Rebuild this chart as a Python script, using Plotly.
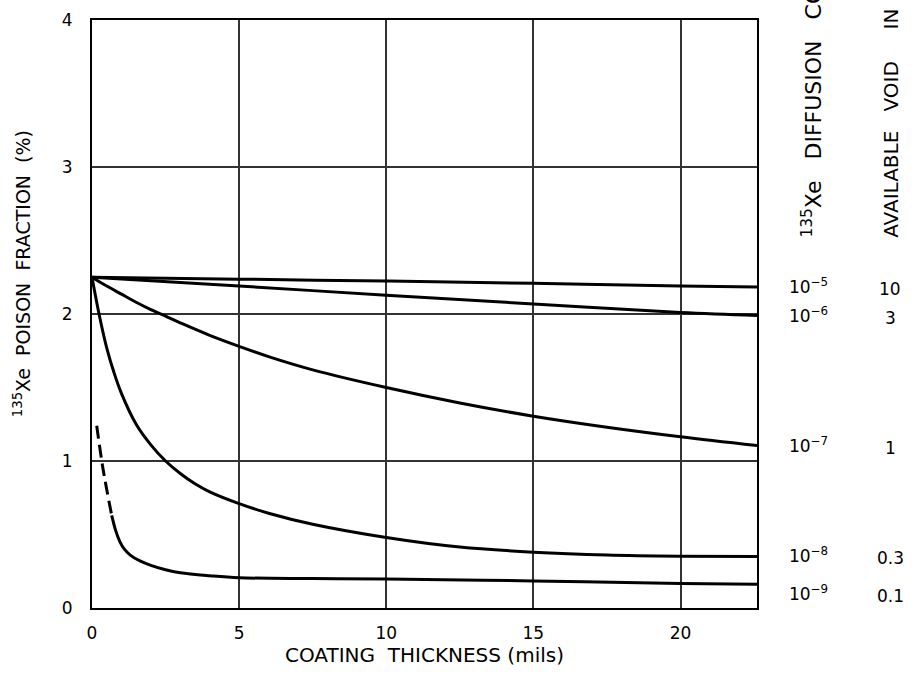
import plotly.graph_objects as go

# ---- data ----
c1_x = [0, 5, 10, 15, 20, 22.6]
c1_y = [2.25, 2.237, 2.224, 2.209, 2.19, 2.184]

c2_x = [0, 5, 10, 15, 20, 22.6]
c2_y = [2.25, 2.19, 2.128, 2.068, 2.01, 1.99]

c3_x = [0, 0.5, 1, 1.5, 2, 2.5, 3, 4, 5, 6, 7.5, 10, 12.5, 15, 17.5, 20, 22.6]
c3_y = [2.25, 2.19, 2.135, 2.08, 2.03, 1.985, 1.94, 1.855, 1.78, 1.71, 1.62, 1.5, 1.395, 1.305, 1.23, 1.165, 1.105]

c4_x = [0, 0.25, 0.5, 0.75, 1, 1.5, 2, 2.5, 3, 3.5, 4, 5, 6, 7.5, 10, 12.5, 15, 17.5, 20, 22.6]
c4_y = [2.25, 1.99, 1.77, 1.6, 1.46, 1.25, 1.11, 1.0, 0.915, 0.845, 0.79, 0.71, 0.645, 0.57, 0.48, 0.415, 0.38, 0.36, 0.352, 0.35]

c5_dash_x = [0.16, 0.38, 0.67]
c5_dash_y = [1.24, 0.94, 0.63]
c5_x = [0.67, 0.8, 0.95, 1.1, 1.3, 1.63, 2, 2.5, 3, 4, 5, 7.5, 10, 15, 20, 22.6]
c5_y = [0.63, 0.53, 0.45, 0.4, 0.36, 0.32, 0.29, 0.26, 0.24, 0.22, 0.206, 0.2, 0.197, 0.184, 0.166, 0.162]

x_ticks = [0, 5, 10, 15, 20]
y_ticks = [0, 1, 2, 3, 4]

diff_labels = ["10<sup>\u22125</sup>", "10<sup>\u22126</sup>", "10<sup>\u22127</sup>",
               "10<sup>\u22128</sup>", "10<sup>\u22129</sup>"]
void_labels = ["10", "3", "1", "0.3", "0.1"]
diff_label_y = [2.19, 1.99, 1.11, 0.36, 0.1]
void_label_y = [2.17, 1.97, 1.09, 0.34, 0.08]

FONT = "DejaVu Sans, Liberation Sans, sans-serif"

fig = go.Figure()
for xs, ys in [(c1_x, c1_y), (c2_x, c2_y), (c3_x, c3_y), (c4_x, c4_y), (c5_x, c5_y)]:
    fig.add_trace(go.Scatter(x=xs, y=ys, mode="lines",
                             line=dict(color="black", width=3, shape="spline", smoothing=1.0),
                             showlegend=False, hoverinfo="skip"))
fig.add_trace(go.Scatter(x=c5_dash_x, y=c5_dash_y, mode="lines",
                         line=dict(color="black", width=3, shape="spline", dash="13px,6px"),
                         showlegend=False, hoverinfo="skip"))

fig.update_xaxes(range=[0, 22.6], tickvals=x_ticks, showgrid=True, gridcolor="#333333",
                 gridwidth=1.5, showline=True, linecolor="black", linewidth=2, mirror=True,
                 zeroline=False, ticks="", ticklabelstandoff=9,
                 tickfont=dict(size=17, color="black", family=FONT),
                 title=dict(text="COATING  THICKNESS (mils)", standoff=6,
                            font=dict(size=20, color="black", family=FONT)))
fig.update_yaxes(range=[0, 4], tickvals=y_ticks, showgrid=True, gridcolor="#333333",
                 gridwidth=1.5, showline=True, linecolor="black", linewidth=2, mirror=True,
                 zeroline=False, ticks="", ticklabelstandoff=14,
                 tickfont=dict(size=17, color="black", family=FONT))

annotations = []
annotations.append(dict(x=-0.104, y=0.569, xref="paper", yref="paper",
                        text="<sup>135</sup>Xe  POISON  FRACTION  (%)",
                        textangle=-90, showarrow=False, xanchor="center", yanchor="middle",
                        font=dict(size=19, color="black", family=FONT)))
for lab, yv in zip(diff_labels, diff_label_y):
    annotations.append(dict(x=1.045, y=yv, xref="paper", yref="y", text=lab, showarrow=False,
                            xanchor="left", yanchor="middle",
                            font=dict(size=17, color="black", family=FONT)))
for v, yv in zip(void_labels, void_label_y):
    annotations.append(dict(x=1.2, y=yv, xref="paper", yref="y", text=v, showarrow=False,
                            xanchor="center", yanchor="middle",
                            font=dict(size=17, color="black", family=FONT)))
annotations.append(dict(x=1.083, y=0.627, xref="paper", yref="paper",
                        text="<sup>135</sup>Xe   DIFFUSION   COEFFICIENT (cm<sup>2</sup>/sec)",
                        textangle=-90, showarrow=False, xanchor="center", yanchor="bottom",
                        font=dict(size=22, color="black", family=FONT)))
annotations.append(dict(x=1.2015, y=0.627, xref="paper", yref="paper",
                        text="AVAILABLE   VOID     IN   COATING (%)",
                        textangle=-90, showarrow=False, xanchor="center", yanchor="bottom",
                        font=dict(size=20, color="black", family=FONT)))

fig.update_layout(width=915, height=675, margin=dict(l=92, r=158, t=10, b=67),
                  paper_bgcolor="white", plot_bgcolor="white",
                  annotations=annotations, font=dict(family=FONT, color="black"))

fig.write_html("out.html")
